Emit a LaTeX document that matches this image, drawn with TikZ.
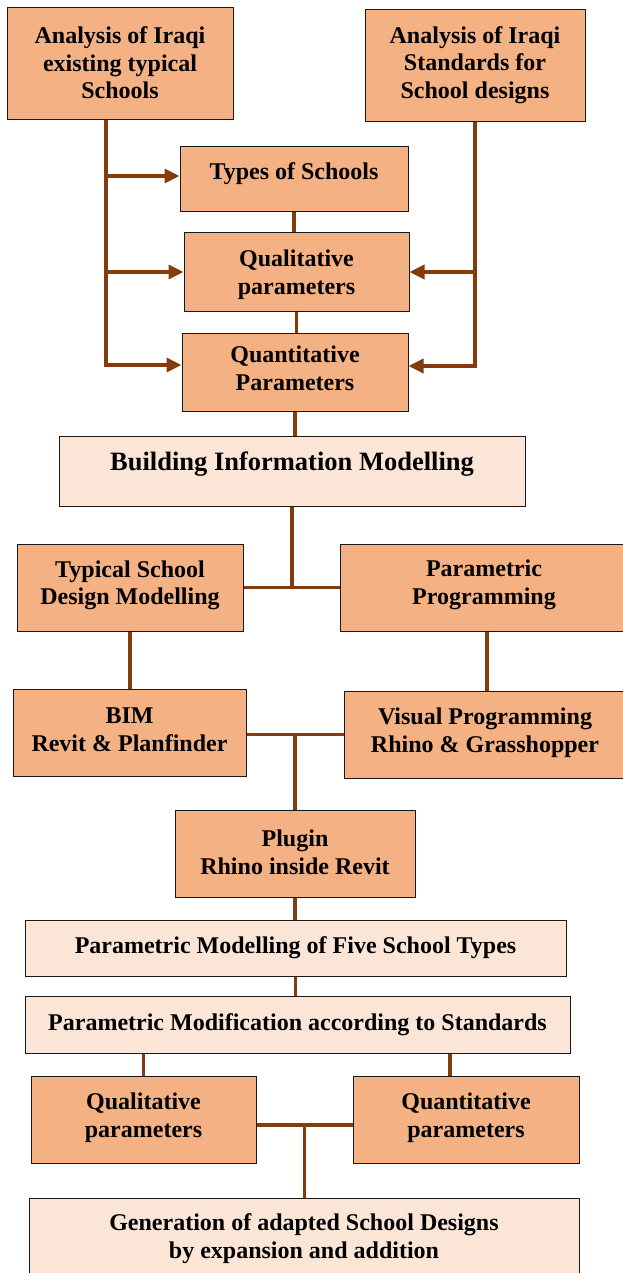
\documentclass[tikz,border=0pt]{standalone}
\usepackage{fontspec}
\setmainfont{Liberation Serif}
\usetikzlibrary{arrows.meta,calc}
\definecolor{boxdark}{HTML}{F4B183}
\definecolor{boxlight}{HTML}{FBE5D6}
\definecolor{linkbrown}{HTML}{843C0C}
\tikzset{
  darkbox/.style={draw=black!90, line width=1pt, fill=boxdark, inner sep=0pt, rectangle},
  lightbox/.style={darkbox, fill=boxlight},
  lbl/.style={inner sep=0pt, align=center, font=\fontsize{24}{27.6}\selectfont\bfseries},
  biglbl/.style={lbl, font=\fontsize{26.5}{30}\selectfont\bfseries},
  link/.style={draw=linkbrown, line width=3.5pt},
  arrowlink/.style={link, -{Triangle[length=15pt,width=14pt]}},
}
\begin{document}
\begin{tikzpicture}[x=1pt,y=-1pt]
\useasboundingbox (0,0) rectangle (623,1273);
\fill[white] (0,0) rectangle (623,1273);
% boxes
\node[darkbox, minimum width=226pt, minimum height=112pt] (A) at (120,64) {};
\node[lbl] (At) at (120,63) {Analysis of Iraqi\\existing typical\\Schools};
\node[darkbox, minimum width=220pt, minimum height=112pt] (B) at (475,66) {};
\node[lbl] (Bt) at (475,65) {Analysis of Iraqi\\Standards for\\School designs};
\node[darkbox, minimum width=228pt, minimum height=65pt] (types) at (294,179.5) {};
\node[lbl] (typest) at (294,173.5) {Types of Schools};
\node[darkbox, minimum width=225pt, minimum height=78pt] (qual) at (296.5,272) {};
\node[lbl] (qualt) at (296.5,274.5) {Qualitative\\parameters};
\node[darkbox, minimum width=226pt, minimum height=78pt] (quant) at (295,372) {};
\node[lbl] (quantt) at (295,368.5) {Quantitative\\Parameters};
\node[lightbox, minimum width=466pt, minimum height=70pt] (bim) at (292,471) {};
\node[biglbl] (bimt) at (292,464) {Building Information Modelling};
\node[darkbox, minimum width=226pt, minimum height=87pt] (typical) at (130,587.5) {};
\node[lbl] (typicalt) at (130,585.3) {Typical School\\Design Modelling};
\node[darkbox, minimum width=288pt, minimum height=87pt] (param) at (484,587.5) {};
\node[lbl] (paramt) at (484,585) {Parametric\\Programming};
\node[darkbox, minimum width=233pt, minimum height=87pt] (revit) at (129.5,732.5) {};
\node[lbl] (revitt) at (129.5,730) {BIM\\Revit \& Planfinder};
\node[darkbox, minimum width=282pt, minimum height=87pt] (visual) at (485,734.5) {};
\node[lbl] (visualt) at (485,733) {Visual Programming\\Rhino \& Grasshopper};
\node[darkbox, minimum width=240pt, minimum height=87pt] (plugin) at (295,853.5) {};
\node[lbl] (plugint) at (295,852) {Plugin\\Rhino inside Revit};
\node[lightbox, minimum width=541pt, minimum height=56pt] (five) at (295.5,948) {};
\node[lbl] (fivet) at (295.5,947.5) {Parametric Modelling of Five School Types};
\node[lightbox, minimum width=545pt, minimum height=57pt] (modif) at (297.5,1024.5) {};
\node[lbl] (modift) at (297.5,1024.5) {Parametric Modification according to Standards};
\node[darkbox, minimum width=225pt, minimum height=87pt] (qualL) at (143.5,1119.5) {};
\node[lbl] (qualLt) at (143.5,1118) {Qualitative\\parameters};
\node[darkbox, minimum width=226pt, minimum height=87pt] (quantL) at (466,1119.5) {};
\node[lbl] (quantLt) at (466,1118) {Quantitative\\parameters};
\node[lightbox, minimum width=550pt, minimum height=92pt] (gen) at (304,1244) {};
\node[lbl] (gent) at (304,1238.7) {Generation of adapted School Designs\\by expansion and addition};
% connectors, top part
\coordinate (lx) at ([xshift=-14pt]A.south);
\coordinate (tw) at ([yshift=3.5pt]types.west);
\coordinate (qw) at ([yshift=7pt]quant.west);
\coordinate (qe) at ([yshift=6pt]quant.east);
\draw[arrowlink] (lx) |- (qw);
\draw[arrowlink] (lx |- tw) -- (tw);
\draw[arrowlink] (lx |- qual.west) -- (qual.west);
\draw[arrowlink] (B.south) |- (qe);
\draw[arrowlink] (B.south |- qual.east) -- (qual.east);
\draw[link] (types.south) -- (types.south |- qual.north);
\draw[link] (qual.south) -- (qual.south |- quant.north);
\draw[link] (quant.south) -- (quant.south |- bim.north);
% middle
\coordinate (j1) at (bim.south |- typical.east);
\draw[link] (bim.south) -- (j1);
\draw[link] (typical.east) -- (param.west);
\draw[link] (typical.south) -- (typical.south |- revit.north);
\coordinate (pd) at ([xshift=3pt]param.south);
\draw[link] (pd) -- (pd |- visual.north);
\draw[link] (revit.east |- visual.west) -- (visual.west);
\coordinate (j2) at ($(revit.east |- visual.west)!0.5!(visual.west)$);
\draw[link] (j2) -- (j2 |- plugin.north);
\draw[link] (plugin.south) -- (plugin.south |- five.north);
\draw[link] (five.south) -- (five.south |- modif.north);
% bottom
\draw[link] (qualL.north |- modif.south) -- (qualL.north);
\coordinate (mq) at ([xshift=-16pt]quantL.north);
\draw[link] (mq |- modif.south) -- (mq);
\coordinate (qq) at ([yshift=-5.5pt]qualL.east);
\draw[link] (qq) -- (qq -| quantL.west);
\coordinate (j3) at ($(qq)!0.5!(qq -| quantL.west)$);
\draw[link] (j3) -- (j3 |- gen.north);
\end{tikzpicture}
\end{document}
